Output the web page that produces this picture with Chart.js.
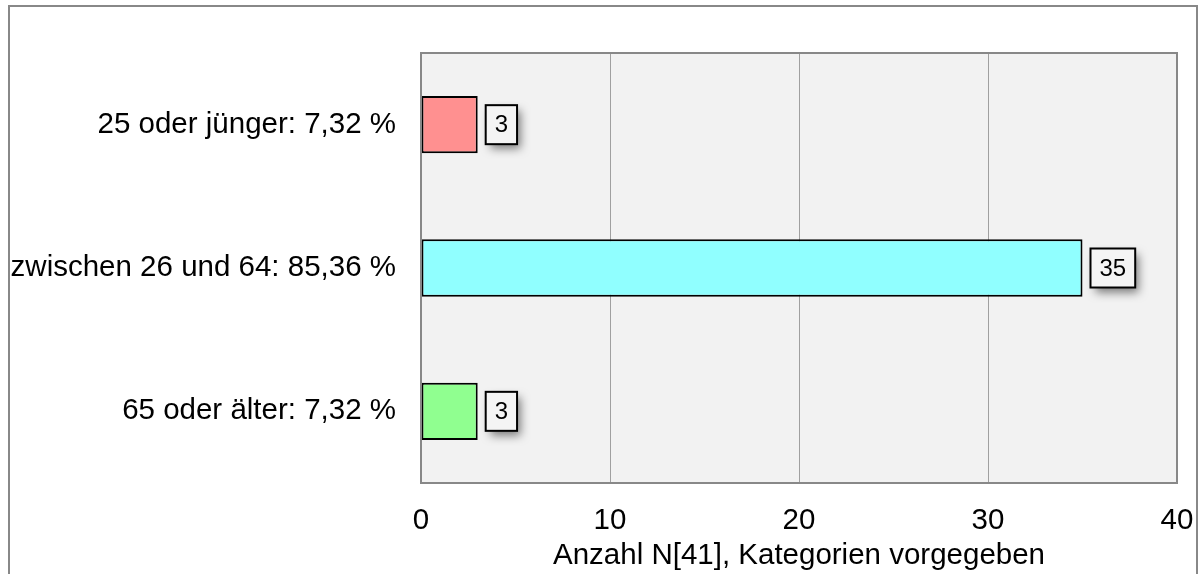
<!DOCTYPE html>
<html>
<head>
<meta charset="utf-8">
<script src="https://cdn.jsdelivr.net/npm/chart.js@4"></script>
<style>
  html, body { margin: 0; padding: 0; background: #fff; overflow: hidden; }
</style>
</head>
<body>
<canvas id="ageChart" width="1204" height="574"></canvas>
<script>
// Altersgruppen
const categories = ['25 oder jünger: 7,32 %', 'zwischen 26 und 64: 85,36 %', '65 oder älter: 7,32 %'];
const counts = [3, 35, 3];
const barColors = ['#ff9090', '#90ffff', '#90ff90'];
const axisTitle = 'Anzahl N[41], Kategorien vorgegeben';

const FONT = "'Liberation Sans', Arial, sans-serif";

// grey page frame + plot background
const framePlugin = {
    id: 'frame',
    beforeDraw(chart) {
        const ctx = chart.ctx;
        const a = chart.chartArea;
        ctx.save();
        ctx.strokeStyle = '#888';
        ctx.lineWidth = 2;
        ctx.strokeRect(9, 6, 1188, 700);
        ctx.fillStyle = '#f2f2f2';
        ctx.fillRect(a.left, a.top, a.right - a.left, a.bottom - a.top);
        ctx.restore();
    },
    afterDatasetsDraw(chart) {
        const ctx = chart.ctx;
        const a = chart.chartArea;
        ctx.save();
        ctx.strokeStyle = '#888';
        ctx.lineWidth = 2;
        ctx.strokeRect(a.left, a.top, a.right - a.left, a.bottom - a.top);
        ctx.restore();
    }
};

// value boxes with drop shadow next to each bar
const valueBoxPlugin = {
    id: 'valueBox',
    afterDatasetsDraw(chart) {
        const ctx = chart.ctx;
        const meta = chart.getDatasetMeta(0);
        ctx.save();
        ctx.font = '24px ' + FONT;
        meta.data.forEach(function (bar, i) {
            const txt = String(counts[i]);
            const w = ctx.measureText(txt).width + 18;
            const h = 39;
            const x = bar.x + 8;
            const y = bar.y - h / 2;
            ctx.save();
            ctx.shadowColor = 'rgba(0,0,0,0.5)';
            ctx.shadowBlur = 9;
            ctx.shadowOffsetX = 4;
            ctx.shadowOffsetY = 5;
            ctx.fillStyle = '#f4f4f4';
            ctx.fillRect(x, y, w, h);
            ctx.restore();
            ctx.strokeStyle = '#000';
            ctx.lineWidth = 2;
            ctx.strokeRect(x, y, w, h);
            ctx.fillStyle = '#000';
            ctx.textAlign = 'center';
            ctx.textBaseline = 'middle';
            ctx.fillText(txt, x + w / 2, bar.y + 1);
        });
        ctx.restore();
    }
};

const ctx = document.getElementById('ageChart').getContext('2d');
const ageChart = new Chart(ctx, {
    type: 'bar',
    data: {
        labels: categories,
        datasets: [{
            data: counts,
            backgroundColor: barColors,
            borderColor: '#000',
            borderWidth: 2,
            borderSkipped: false,
            barPercentage: 0.4,
            categoryPercentage: 1
        }]
    },
    options: {
        indexAxis: 'y',
        responsive: false,
        animation: false,
        layout: { padding: { left: 0, top: 53, right: 27, bottom: 0 } },
        plugins: {
            legend: { display: false },
            tooltip: { enabled: false }
        },
        scales: {
            x: {
                min: 0,
                max: 40,
                border: { display: false },
                grid: { color: '#a0a0a0', lineWidth: 1, drawTicks: false },
                ticks: {
                    stepSize: 10,
                    padding: 20,
                    color: '#000',
                    font: { family: FONT, size: 29.5 }
                },
                title: {
                    display: true,
                    text: axisTitle,
                    color: '#000',
                    font: { family: FONT, size: 29.5 },
                    padding: { top: 0, bottom: 0 }
                },
                afterFit(scale) {
                    scale.height = 91;
                    scale.paddingLeft = 0;
                    scale.paddingRight = 0;
                }
            },
            y: {
                border: { display: false },
                grid: { display: false, drawTicks: false },
                ticks: {
                    padding: 25,
                    color: '#000',
                    font: { family: FONT, size: 29.5 }
                },
                afterFit(scale) { scale.width = 421; }
            }
        }
    },
    plugins: [framePlugin, valueBoxPlugin]
});
</script>
</body>
</html>
